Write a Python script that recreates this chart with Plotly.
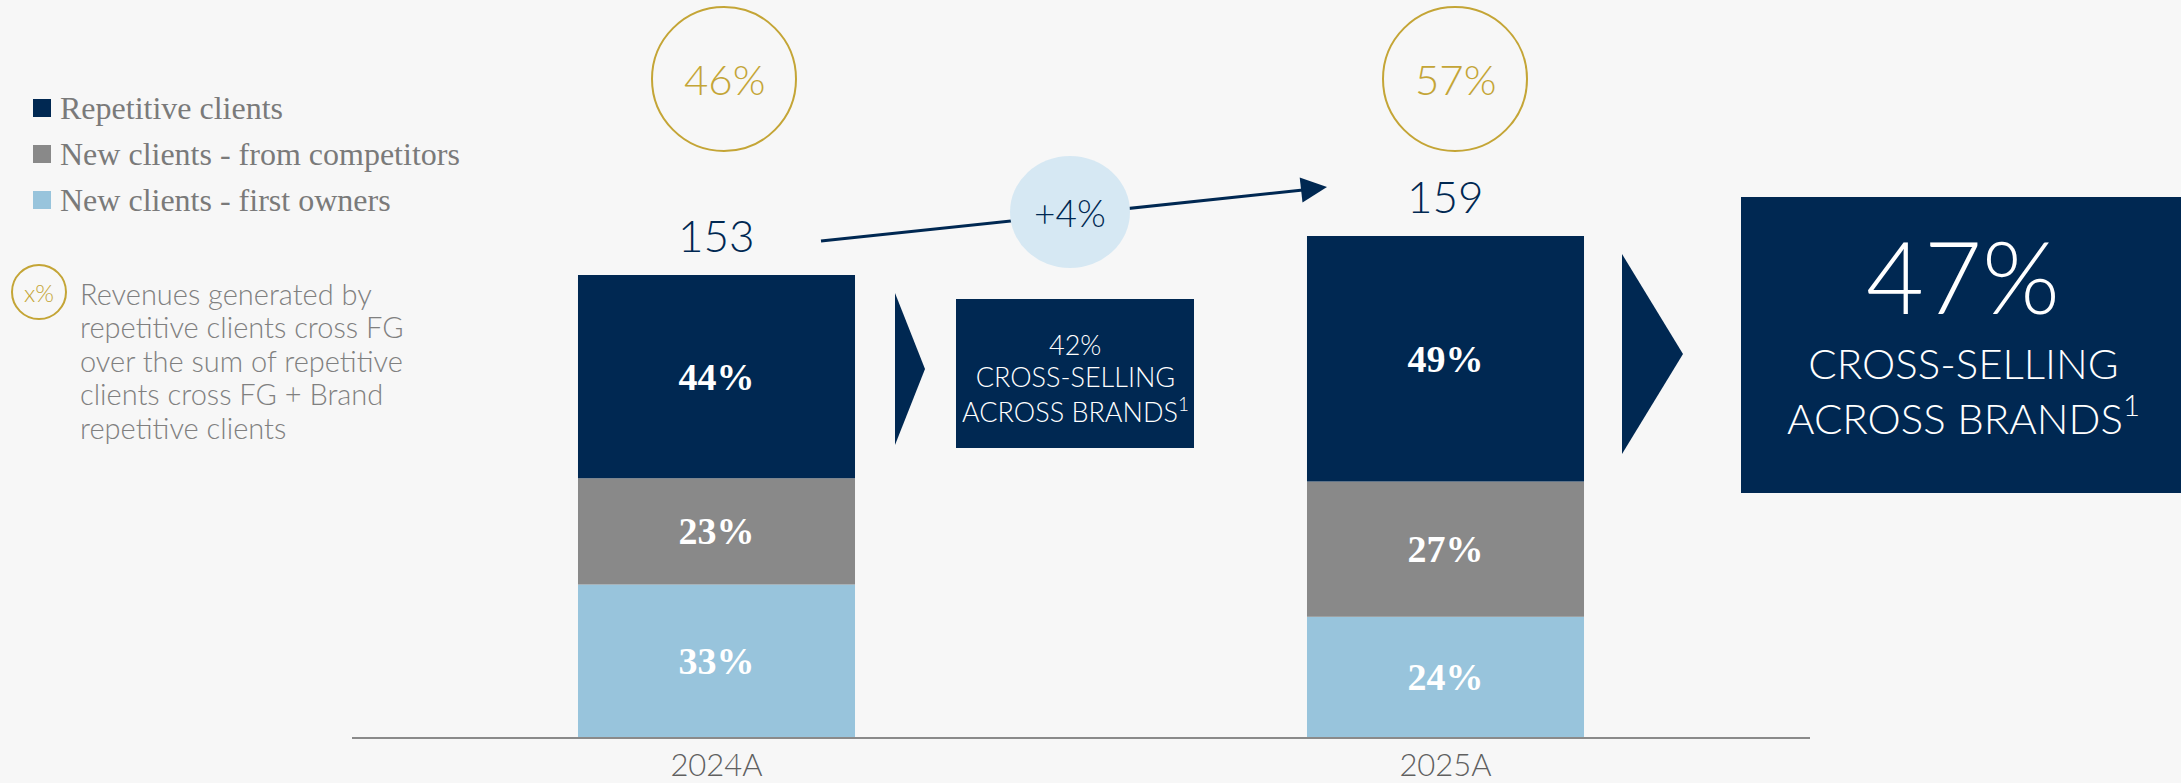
import plotly.graph_objects as go

# ---------------- data ----------------
years = ["2024A", "2025A"]
totals = [153, 159]
series_names = ["New clients - first owners", "New clients - from competitors", "Repetitive clients"]
first_owners = [33, 24]
from_competitors = [23, 27]
repetitive = [44, 49]
cross_fg = ["46%", "57%"]
cross_brands = ["42%", "47%"]
growth_label = "+4%"
axis_floor = 82  # value where the bars start
note_lines = ["Revenues generated by", "repetitive clients cross FG", "over the sum of repetitive",
              "clients cross FG + Brand", "repetitive clients"]

# ---------------- style ----------------
W, H = 2181, 783
NAVY = "#002852"
GREY = "#898989"
LBLUE = "#98C4DC"
GOLD = "#C4A536"
BUBBLE = "#D6E8F3"
BG = "#F7F7F7"
colors = [LBLUE, GREY, NAVY]
THIN = "Lato"
SERIF = "Liberation Serif"


def X(p):
    return p / W


def Y(p):
    return 1 - p / H


fig = go.Figure()

series = [first_owners, from_competitors, repetitive]
cum = [0.0] * len(years)
for name, vals, col in zip(series_names, series, colors):
    heights = [v / 100 * (t - axis_floor) for v, t in zip(vals, totals)]
    bases = [axis_floor + c for c in cum]
    fig.add_trace(go.Bar(
        x=years, y=heights, base=bases, name=name,
        marker=dict(color=col, line=dict(width=0)),
        text=[f"{v}%" for v in vals], textposition="inside",
        insidetextanchor="middle", textangle=0,
        textfont=dict(family=SERIF, size=38, color="white", weight="bold"),
        hoverinfo="skip", showlegend=False,
    ))
    cum = [c + h for c, h in zip(cum, heights)]

px_per_unit = 462 / (totals[0] - axis_floor)
fig.update_layout(
    width=W, height=H, paper_bgcolor=BG, plot_bgcolor=BG,
    margin=dict(l=0, r=0, t=0, b=0, autoexpand=False),
    barmode="overlay", bargap=0.62, showlegend=False,
    xaxis=dict(type="category", range=[-0.5, 1.5], domain=[X(352), X(1810)],
               showline=True, linecolor="#8a8a8a", linewidth=2, showgrid=False,
               ticks="", ticklabelstandoff=0, automargin=False,
               tickfont=dict(family=THIN, weight=300, size=31, color="#606060")),
    yaxis=dict(range=[axis_floor, axis_floor + 737 / px_per_unit], domain=[1 - 737 / H, 1],
               visible=False, showgrid=False, zeroline=False, automargin=False),
)

shapes = []
ann = []


def text_at(px, py, text, font, xanchor="center", yanchor="middle", **kw):
    ann.append(dict(x=X(px), y=Y(py), xref="paper", yref="paper", text=text, showarrow=False,
                    xanchor=xanchor, yanchor=yanchor, font=font, **kw))


# totals above bars
for yr, t in zip(years, totals):
    ann.append(dict(x=yr, y=t, xref="x", yref="y", text=str(t), showarrow=False,
                    xanchor="center", yanchor="bottom", yshift=12,
                    font=dict(family=THIN, weight=300, size=44, color=NAVY)))

# gold circles
for cx, lab in zip([724, 1455], cross_fg):
    shapes.append(dict(type="circle", xref="paper", yref="paper",
                       x0=X(cx - 72), x1=X(cx + 72), y0=Y(7), y1=Y(151),
                       line=dict(color=GOLD, width=2), fillcolor="rgba(0,0,0,0)"))
    text_at(cx, 79, lab, dict(family=THIN, weight=300, size=42, color=GOLD))

# growth arrow
shapes.append(dict(type="line", xref="paper", yref="paper", x0=X(821), y0=Y(241), x1=X(1303), y1=Y(190),
                   line=dict(color=NAVY, width=3)))
shapes.append(dict(type="path", xref="paper", yref="paper",
                   path=f"M{X(1327)},{Y(187)} L{X(1299.7)},{Y(177.6)} L{X(1302.5)},{Y(202.4)} Z",
                   fillcolor=NAVY, line=dict(width=0)))
shapes.append(dict(type="circle", xref="paper", yref="paper", x0=X(1010), x1=X(1130), y0=Y(156), y1=Y(268),
                   fillcolor=BUBBLE, line=dict(width=0)))
text_at(1070, 212, growth_label, dict(family=THIN, weight=300, size=37, color=NAVY))

# chevrons
for (x0, x1, yt, yb) in [(895, 925, 293, 445), (1622, 1683, 254, 454)]:
    shapes.append(dict(type="path", xref="paper", yref="paper",
                       path=f"M{X(x0)},{Y(yt)} L{X(x1)},{Y((yt + yb) / 2)} L{X(x0)},{Y(yb)} Z",
                       fillcolor=NAVY, line=dict(width=0)))

# cross-selling boxes
shapes.append(dict(type="rect", xref="paper", yref="paper", x0=X(956), x1=X(1194), y0=Y(299), y1=Y(448),
                   fillcolor=NAVY, line=dict(width=0)))
text_at(1075, 345, cross_brands[0], dict(family=THIN, weight=300, size=27, color="white"))
text_at(1075, 394, "CROSS-SELLING<br>ACROSS BRANDS<sup>1</sup>",
        dict(family=THIN, weight=300, size=27, color="white"))

shapes.append(dict(type="rect", xref="paper", yref="paper", x0=X(1741), x1=X(2185), y0=Y(197), y1=Y(493),
                   fillcolor=NAVY, line=dict(width=0)))
text_at(1963, 275, cross_brands[1], dict(family=THIN, weight=300, size=100, color="white"))
text_at(1963, 391, "CROSS-SELLING<br>ACROSS BRANDS<sup>1</sup>",
        dict(family=THIN, weight=300, size=42, color="white"))

# legend (manual)
leg_order = [2, 1, 0]
for i, k in enumerate(leg_order):
    cy = 108 + i * 46
    shapes.append(dict(type="rect", xref="paper", yref="paper", x0=X(33), x1=X(51), y0=Y(cy - 9), y1=Y(cy + 9),
                       fillcolor=colors[k], line=dict(width=0)))
    text_at(58, cy, series_names[k], dict(family=SERIF, size=32, color="#7a7a7a"), xanchor="left")

# x% icon and note
shapes.append(dict(type="circle", xref="paper", yref="paper", x0=X(12), x1=X(66), y0=Y(265), y1=Y(319),
                   line=dict(color=GOLD, width=2), fillcolor="rgba(0,0,0,0)"))
text_at(39, 292, "x%", dict(family=THIN, weight=300, size=24, color=GOLD))
for i, line in enumerate(note_lines):
    text_at(78, 293 + i * 33.5, line, dict(family=THIN, weight=300, size=29, color="#808080"),
            xanchor="left")

fig.update_layout(shapes=shapes, annotations=ann)
fig.write_html("out.html", config={"displayModeBar": False},
               post_script="document.body.style.margin='0';document.body.style.background='#F7F7F7';")
